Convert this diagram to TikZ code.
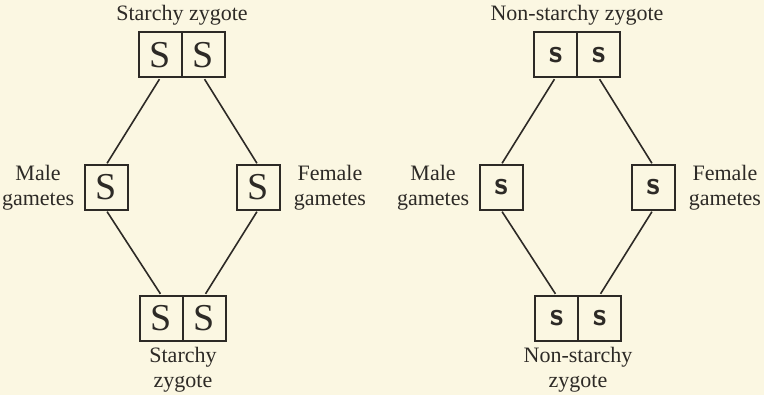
\documentclass[tikz,border=0pt]{standalone}
\usepackage{fontspec}
\setmainfont{Liberation Serif}
\usetikzlibrary{positioning}
\definecolor{cPaper}{RGB}{251,247,226}
\definecolor{cInk}{RGB}{45,42,38}

% allele letters: dominant (serif capital) and recessive (bold sans)
\newcommand{\domS}{\fontsize{19}{19}\selectfont S}
\newcommand{\recs}{\fontsize{16}{16}\selectfont\sffamily\bfseries s}

\begin{document}
\begin{tikzpicture}[x=0.5pt, y=-0.5pt,
    cell/.style={draw=cInk, line width=1pt, text=cInk, inner sep=0pt,
      outer sep=0pt, minimum width=21.5pt, minimum height=22.5pt},
    lbl/.style={text=cInk, align=center, inner sep=1pt,
      font=\fontsize{11}{12.5}\selectfont},
    link/.style={draw=cInk, line width=0.8pt, shorten <=1pt, shorten >=1pt}]
  \fill[cPaper] (0,0) rectangle (764,395);
  \useasboundingbox (0,0) rectangle (764,395);

  \foreach \n/\x/\a/\kind in {L/182/\domS/Starchy, R/577/\recs/Non-starchy} {
    % parent zygote
    \node[cell, anchor=east] (ta\n) at (\x,55) {\a};
    \node[cell, right=0pt of ta\n] (tb\n) {\a};
    \node[lbl] (tl\n) at (\x,15) {\kind{} zygote};
    % gametes
    \node[cell] (m\n) at (\x-76,187.5) {\a};
    \node[cell] (f\n) at (\x+76,187.5) {\a};
    \node[lbl, left=4pt of m\n] (ml\n) {Male\\gametes};
    \node[lbl, right=6pt of f\n] (fl\n) {Female\\gametes};
    % offspring zygote
    \node[cell, anchor=east] (ba\n) at (\x+1,318) {\a};
    \node[cell, right=0pt of ba\n] (bb\n) {\a};
    \node[lbl, below=2pt of ba\n.south east] (bl\n) {\kind\\zygote};
    \draw[link] (ta\n.south) -- (m\n.north);
    \draw[link] (tb\n.south) -- (f\n.north);
    \draw[link] (m\n.south) -- (ba\n.north);
    \draw[link] (f\n.south) -- (bb\n.north);
  }
\end{tikzpicture}
\end{document}
